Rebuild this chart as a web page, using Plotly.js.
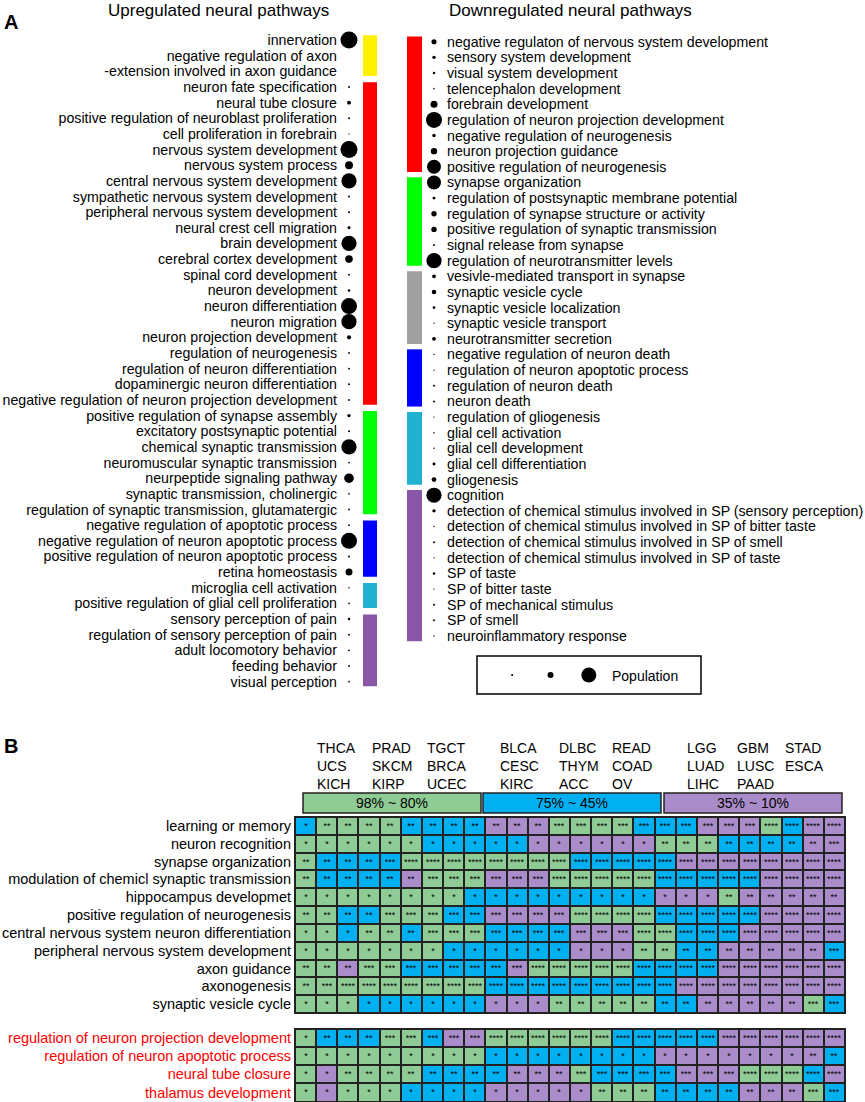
<!DOCTYPE html>
<html><head><meta charset="utf-8">
<script src="https://cdn.plot.ly/plotly-3.0.1.min.js"></script>
<style>html,body{margin:0;padding:0;background:#fff;}#chart{width:865px;height:1102px;}</style>
</head><body><div id="chart"></div>
<script>
// ---------------- Panel A data ----------------
const upTerms = [
 'innervation','negative regulation of axon','-extension involved in axon guidance',
 'neuron fate specification','neural tube closure','positive regulation of neuroblast proliferation',
 'cell proliferation in forebrain','nervous system development','nervous system process',
 'central nervous system development','sympathetic nervous system development',
 'peripheral nervous system development','neural crest cell migration','brain development',
 'cerebral cortex development','spinal cord development','neuron development',
 'neuron differentiation','neuron migration','neuron projection development',
 'regulation of neurogenesis','regulation of neuron differentiation',
 'dopaminergic neuron differentiation','negative regulation of neuron projection development',
 'positive regulation of synapse assembly','excitatory postsynaptic potential',
 'chemical synaptic transmission','neuromuscular synaptic transmission',
 'neurpeptide signaling pathway','synaptic transmission, cholinergic',
 'regulation of synaptic transmission, glutamatergic',
 'negative regulation of apoptotic process','negative regulation of neuron apoptotic process',
 'positive regulation of neuron apoptotic process','retina homeostasis',
 'microglia cell activation','positive regulation of glial cell proliferation',
 'sensory perception of pain','regulation of sensory perception of pain',
 'adult locomotory behavior','feeding behavior','visual perception'
];
const upPopulation = [
 100,null,null,1.4,5.5,1.4,0.5,100,22,80,1.4,1.4,3,80,20,1.2,2.2,89,80,6,1.2,1.2,1.4,1.2,
 4,1.4,80,1,32,1,1.2,1.2,89,1.4,17,0.8,1,2.2,1.2,1.2,1.2,1
];
const upGroupSizes = [3,21,7,4,2,5];
const upGroupColors = ['#FFF200','#FF0000','#00FF00','#0000FF','#20B2D0','#8A56A6'];

const downTerms = [
 'negative regulaton of nervous system development','sensory system development',
 'visual system development','telencephalon development','forebrain development',
 'regulation of neuron projection development','negative regulation of neurogenesis',
 'neuron projection guidance','positive regulation of neurogenesis',
 'synapse organization','regulation of postsynaptic membrane potential',
 'regulation of synapse structure or activity','positive regulation of synaptic transmission',
 'signal release from synapse','regulation of neurotransmitter levels',
 'vesivle-mediated transport in synapse','synaptic vesicle cycle',
 'synaptic vesicle localization','synaptic vesicle transport','neurotransmitter secretion',
 'negative regulation of neuron death','regulation of neuron apoptotic process',
 'regulation of neuron death','neuron death',
 'regulation of gliogenesis','glial cell activation','glial cell development',
 'glial cell differentiation','gliogenesis',
 'cognition','detection of chemical stimulus involved in SP (sensory perception)',
 'detection of chemical stimulus involved in SP of bitter taste',
 'detection of chemical stimulus involved in SP of smell',
 'detection of chemical stimulus involved in SP of taste',
 'SP of taste','SP of bitter taste','SP of mechanical stimulus','SP of smell',
 'neuroinflammatory response'
];
const downPopulation = [
 9,4,2.2,0.8,17,89,4,14,68,
 68,3,10,10,1.4,80,
 5,7,2.5,0.6,5,
 0.6,0.6,1.4,1.4,
 0.6,0.8,0.8,3,8,
 80,4,0.6,1.4,0.6,2.2,0.6,1.4,1.4,0.6
];
const downGroupSizes = [9,6,5,4,5,10];
const downGroupColors = ['#FF0000','#00FF00','#A0A0A0','#0000FF','#20B2D0','#8A56A6'];

const legendLevels = ['low','mid','high'];
const legendPopulation = [1.4, 12.5, 78];

// ---------------- Panel B data ----------------
const cancerTypes = ['THCA','UCS','KICH','PRAD','SKCM','KIRP','TGCT','BRCA','UCEC',
 'BLCA','CESC','KIRC','DLBC','THYM','ACC','READ','COAD','OV',
 'LGG','LUAD','LIHC','GBM','LUSC','PAAD','STAD','ESCA'];
const rangeLabels = ['98% ~ 80%','75% ~ 45%','35% ~ 10%'];
const mainPathways = ['learning or memory','neuron recognition','synapse organization',
 'modulation of chemicl synaptic transmission','hippocampus developmet',
 'positive regulation of neurogenesis','central nervous system neuron differentiation',
 'peripheral nervous system development','axon guidance','axonogenesis','synaptic vesicle cycle'];
const extraPathways = ['regulation of neuron projection development',
 'regulation of neuron apoptotic process','neural tube closure','thalamus development'];
// G = 98%~80% group colour, B = 75%~45%, P = 35%~10%
const mainColorCodes = [
 'BGGGGBBBBPPPGGGGBBBPPPGBPP',
 'GGGGGGBBBBBPPPPPPGGGBBBBPP',
 'GBBBBGGGGGGGGBBBBBPPPPPPPP',
 'GBBBBPGGGPPPGGGGGBBBBBPPPP',
 'GGGGGGGGBBBBBBBBBPPPGPPPPP',
 'GGBBGGGBBPPPPGGGGBBBBBPPPP',
 'GGBGGBGGGBBBBPPPGGBBBPPPPP',
 'GGGGGGGBBBBBBPPPGGBBPPPPPB',
 'GGPGGBBBBBPGGGGGBBBBPPPPPP',
 'GGGGGGGGGBBBBBBBBBPPPPPPPP',
 'GGGBBBBBBPPPGGGGGBBPPPPPGB'
];
const mainStarCounts = [
 '12222222222233333333334444',
 '11111111111111111222222223',
 '22223444444444444444444444',
 '22222233333344444444444444',
 '11111111111111111111222222',
 '22223333333334444444444444',
 '11122233333333334444444444',
 '11111111111111112222222223',
 '22233333333444444444444444',
 '23444444444444444444444444',
 '11111111111122222222222233'
];
const extraColorCodes = [
 'GBBBGGBPPGGGGGGBBBBBPPPPPP',
 'GGGGGGGGGBBBBBBBBPPPPPPPPB',
 'GPGGGGBBBBPPPGBBBBPPPGGGBP',
 'GPGGGBBBBPPPPPGGGBBBBPPPGB'
];
const extraStarCounts = [
 '12223333344444444444444444',
 '11111111111111111111111122',
 '11222222222223333333344444',
 '11111111111111222222222233'
];

// ---------------- helpers ----------------
const W = 865, H = 1102;
const px = x => x / W;
const py = y => 1 - y / H;
const FONT = 'Arial, "Liberation Sans", sans-serif';
const sizeScale = p => 17 * Math.sqrt(p / 100);
const codeVal = {G:0, B:1, P:2};
const cellGreen = '#8FCB95', cellBlue = '#00B0F0', cellPurple = '#A98CC9';
const labelA = 14.2, labelB = 14.5;

function dotTrace(terms, pops, xa, ya) {
  const ys = [], ss = [];
  terms.forEach((t, i) => { if (pops[i] != null) { ys.push(t); ss.push(sizeScale(pops[i])); } });
  return {type:'scatter', mode:'markers', x: ys.map(() => 0), y: ys, xaxis: xa, yaxis: ya,
    marker:{color:'#000', size: ss, opacity:1, line:{width:0}}, hoverinfo:'skip', showlegend:false, cliponaxis:false};
}
function heatTrace(codes, stars, rows, xa, ya) {
  return {type:'heatmap', x: cancerTypes, y: rows, xaxis: xa, yaxis: ya,
    z: codes.map(r => r.split('').map(c => codeVal[c])),
    text: stars.map(r => r.split('').map(n => '*'.repeat(+n))),
    texttemplate:'%{text}', textfont:{size:9, color:'#000', family:FONT},
    zmin:0, zmax:2, showscale:false, xgap:2, ygap:2, hoverinfo:'skip',
    colorscale:[[0,cellGreen],[0.25,cellGreen],[0.25,cellBlue],[0.75,cellBlue],[0.75,cellPurple],[1,cellPurple]]};
}

const traces = [
  dotTrace(upTerms, upPopulation, 'x', 'y'),
  dotTrace(downTerms, downPopulation, 'x2', 'y2'),
  {type:'scatter', mode:'markers', x: legendLevels, y: legendLevels.map(() => 0), xaxis:'x3', yaxis:'y3',
   marker:{color:'#000', opacity:1, size: legendPopulation.map(sizeScale), line:{width:0}}, hoverinfo:'skip', showlegend:false, cliponaxis:false},
  heatTrace(mainColorCodes, mainStarCounts, mainPathways, 'x4', 'y4'),
  heatTrace(extraColorCodes, extraStarCounts, extraPathways, 'x5', 'y5')
];

const hidden = {visible:false, fixedrange:true, showgrid:false, zeroline:false};
const shapes = [], annotations = [];

// group colour bars
function bars(sizes, colors, yref, x0, x1, inset) {
  let start = 0;
  sizes.forEach((n, g) => {
    shapes.push({type:'rect', xref:'paper', yref:yref, x0:px(x0), x1:px(x1),
      y0:start - inset, y1:start + n - 1 + inset, fillcolor:colors[g], line:{width:0}});
    start += n;
  });
}
bars(upGroupSizes, upGroupColors, 'y', 363, 377, 0.3);
bars(downGroupSizes, downGroupColors, 'y2', 407, 422, 0.33);

// population key box
shapes.push({type:'rect', xref:'paper', yref:'paper', x0:px(477), x1:px(701), y0:py(694), y1:py(656),
  line:{color:'#000', width:1.5}, fillcolor:'rgba(0,0,0,0)'});
annotations.push({text:'Population', xref:'paper', yref:'paper', x:px(610), y:py(676), xanchor:'left', yanchor:'middle',
  showarrow:false, font:{size:14, family:FONT, color:'#000'}});

// titles & panel letters
annotations.push({text:'Upregulated neural pathways', xref:'paper', yref:'paper', x:px(218), y:py(10),
  xanchor:'center', yanchor:'middle', showarrow:false, font:{size:17, family:FONT, color:'#000'}});
annotations.push({text:'Downregulated neural pathways', xref:'paper', yref:'paper', x:px(570), y:py(10),
  xanchor:'center', yanchor:'middle', showarrow:false, font:{size:17, family:FONT, color:'#000'}});
annotations.push({text:'<b>A</b>', xref:'paper', yref:'paper', x:px(2), y:py(22), xanchor:'left', yanchor:'middle',
  showarrow:false, font:{size:20, family:FONT, color:'#000'}});
annotations.push({text:'<b>B</b>', xref:'paper', yref:'paper', x:px(2), y:py(746), xanchor:'left', yanchor:'middle',
  showarrow:false, font:{size:20, family:FONT, color:'#000'}});

// panel B: dark frame behind cells
shapes.push({type:'rect', xref:'paper', yref:'paper', x0:px(294), x1:px(846), y0:py(1014), y1:py(816),
  fillcolor:'#222', line:{width:0}, layer:'below'});
shapes.push({type:'rect', xref:'paper', yref:'paper', x0:px(294), x1:px(846), y0:py(1102), y1:py(1028),
  fillcolor:'#222', line:{width:0}, layer:'below'});

// panel B: range boxes
const rangeBoxX = [[303,481],[483,661],[664,842]];
const rangeColors = [cellGreen, cellBlue, cellPurple];
rangeLabels.forEach((lab, i) => {
  shapes.push({type:'rect', xref:'paper', yref:'paper', x0:px(rangeBoxX[i][0]), x1:px(rangeBoxX[i][1]),
    y0:py(813), y1:py(793), fillcolor:rangeColors[i], line:{color:'#222', width:1.5}});
  annotations.push({text:lab, xref:'paper', yref:'paper', x:px((rangeBoxX[i][0]+rangeBoxX[i][1])/2), y:py(803.5),
    xanchor:'center', yanchor:'middle', showarrow:false, font:{size:14, family:FONT, color:'#000'}});
});

// panel B: cancer type header stacks
const headerLeft = [315,370,425,498,557,610,685,735,783];
headerLeft.forEach((x, g) => {
  annotations.push({text: cancerTypes.slice(3*g, 3*g+3).join('<br>'), xref:'paper', yref:'paper',
    x:px(x), y:py(738), xanchor:'left', yanchor:'top', align:'left', showarrow:false,
    font:{size:14, family:FONT, color:'#000'}});
});

const layout = {
  width:W, height:H, margin:{l:0, r:0, t:0, b:0}, paper_bgcolor:'#fff', plot_bgcolor:'rgba(0,0,0,0)',
  font:{family:FONT, color:'#000'}, showlegend:false,
  xaxis: Object.assign({domain:[px(338), px(360)], range:[-1,1]}, hidden),
  yaxis: {domain:[py(689.5), py(32.2)], type:'category', categoryorder:'array', categoryarray:upTerms,
    range:[41.5,-0.5], anchor:'x', side:'left', tickmode:'array', tickvals:upTerms, ticktext:upTerms,
    ticks:'', showgrid:false, zeroline:false, showline:false, fixedrange:true, tickfont:{size:labelA, family:FONT, color:'#000'}},
  xaxis2: Object.assign({domain:[px(424), px(446)], range:[-0.909,1.091], anchor:'y2'}, hidden),
  yaxis2: {domain:[py(643.8), py(33.9)], type:'category', categoryorder:'array', categoryarray:downTerms,
    range:[38.5,-0.5], anchor:'x2', side:'right', tickmode:'array', tickvals:downTerms, ticktext:downTerms,
    ticks:'', showgrid:false, zeroline:false, showline:false, fixedrange:true, tickfont:{size:labelA, family:FONT, color:'#000'}},
  xaxis3: Object.assign({domain:[px(493), px(608)], type:'category', range:[-0.5,2.5], anchor:'y3'}, hidden),
  yaxis3: Object.assign({domain:[py(694), py(656)], range:[-1,1], anchor:'x3'}, hidden),
  xaxis4: Object.assign({domain:[px(295), px(845)], type:'category', range:[-0.5,25.5], anchor:'y4'}, hidden),
  yaxis4: {domain:[py(1013), py(817)], type:'category', categoryorder:'array', categoryarray:mainPathways,
    range:[10.5,-0.5], anchor:'x4', tickmode:'array', tickvals:mainPathways, ticktext:mainPathways, ticklabelstandoff:3,
    ticks:'', showgrid:false, zeroline:false, showline:false, fixedrange:true, tickfont:{size:labelB, family:FONT, color:'#000'}},
  xaxis5: Object.assign({domain:[px(295), px(845)], type:'category', range:[-0.5,25.5], anchor:'y5'}, hidden),
  yaxis5: {domain:[py(1101.5), py(1029)], type:'category', categoryorder:'array', categoryarray:extraPathways,
    range:[3.5,-0.5], anchor:'x5', tickmode:'array', tickvals:extraPathways, ticktext:extraPathways, ticklabelstandoff:3,
    ticks:'', showgrid:false, zeroline:false, showline:false, fixedrange:true, tickfont:{size:labelB, family:FONT, color:'#FF0000'}},
  shapes: shapes, annotations: annotations
};

Plotly.newPlot('chart', traces, layout, {displayModeBar:false, staticPlot:true});
</script></body></html>
